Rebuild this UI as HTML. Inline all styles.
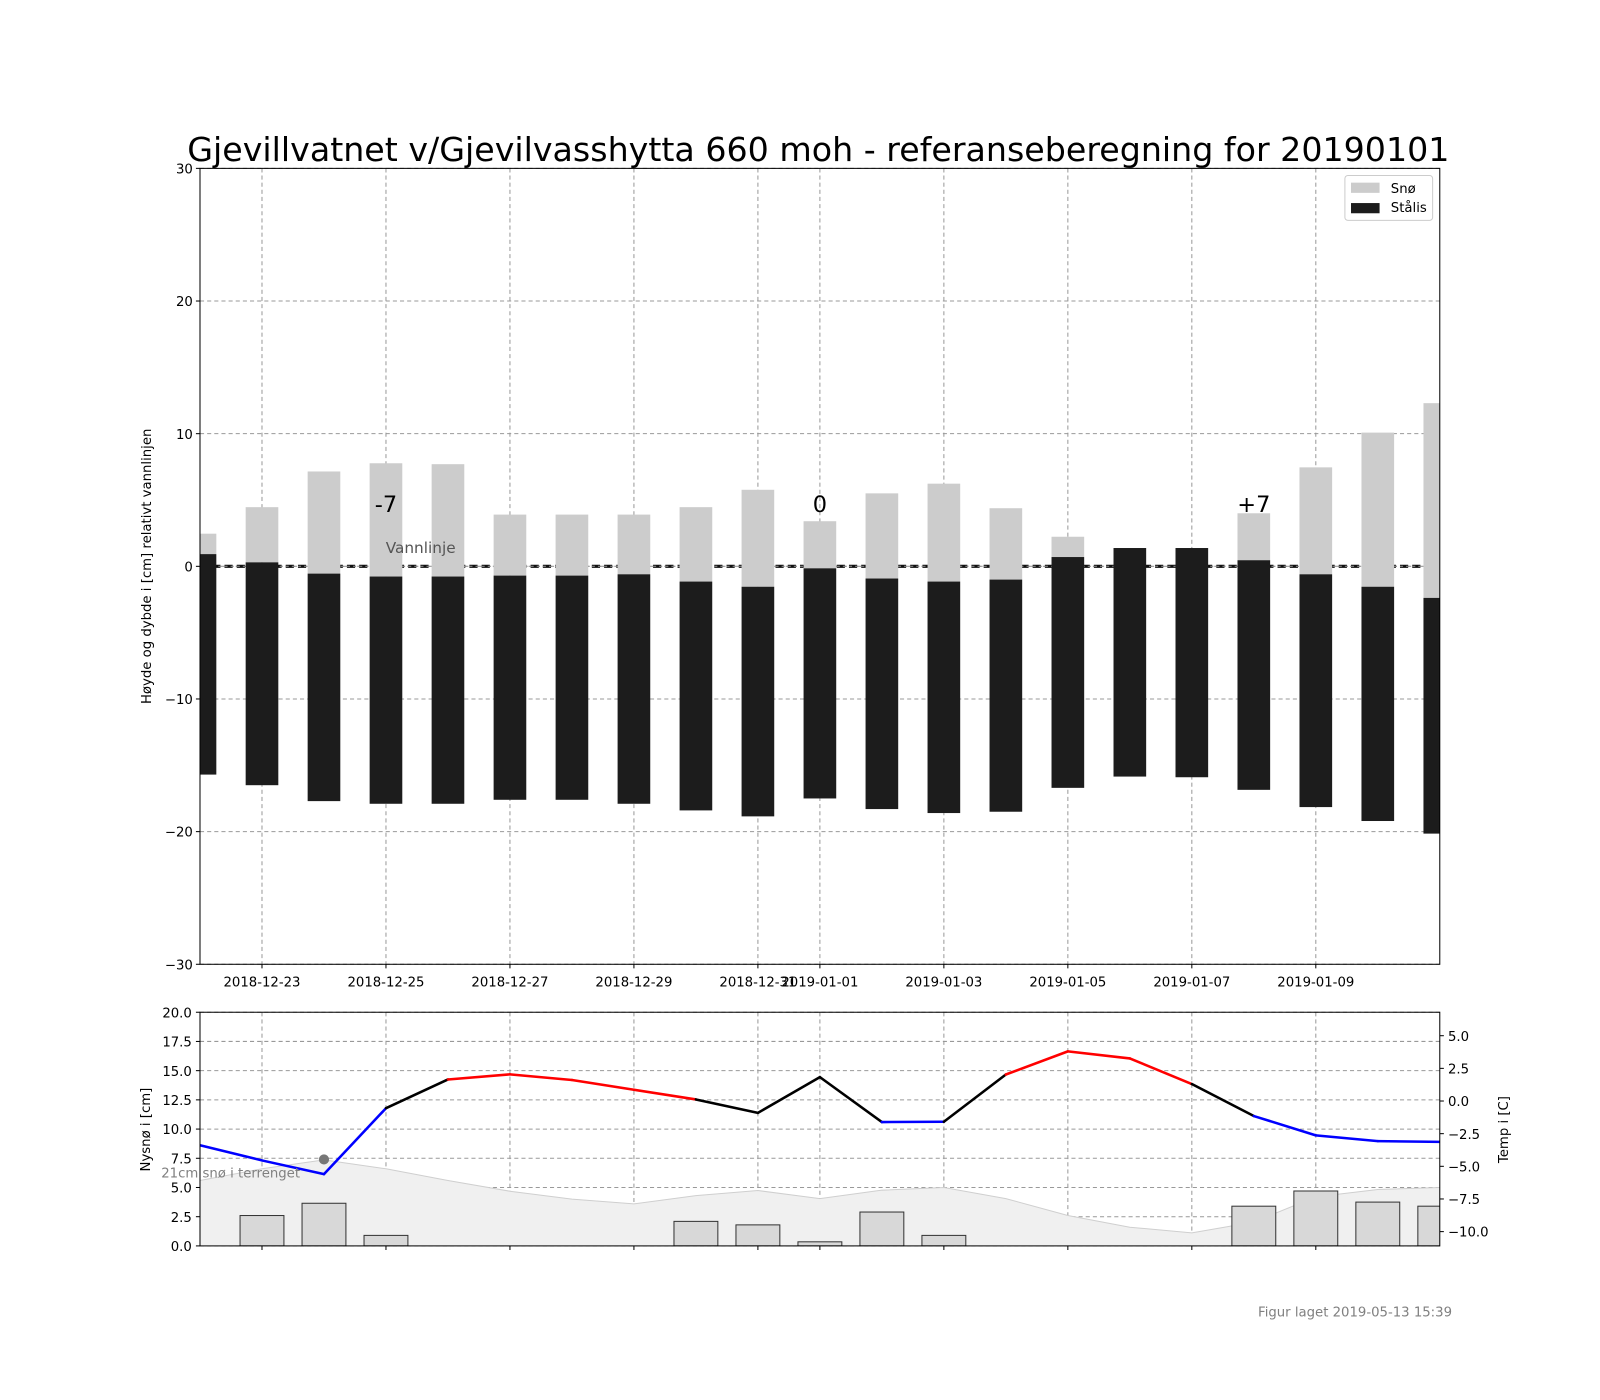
<!DOCTYPE html>
<html><head><meta charset="utf-8">
<style>
body{margin:0;background:#fff;}
svg{display:block;font-family:"DejaVu Sans","Liberation Sans",sans-serif;}
</style></head>
<body>
<svg id="fig" width="1600" height="1400" viewBox="0 0 1600 1400" xmlns="http://www.w3.org/2000/svg">
<rect width="1600" height="1400" fill="#fff"/>
<g id="root" transform="scale(1.0204)">
<text x="802" y="158" font-size="32.6" text-anchor="middle" fill="#000">Gjevillvatnet v/Gjevilvasshytta 660 moh - referanseberegning for 20190101</text>
<g id="topPanel"></g>
<g id="botPanel"></g>
<text x="1423" y="1290" font-size="13" text-anchor="end" fill="#808080">Figur laget 2019-05-13 15:39</text>
</g>
</svg>
<script>
// ---- data ----
const days = ["2018-12-22","2018-12-23","2018-12-24","2018-12-25","2018-12-26","2018-12-27","2018-12-28","2018-12-29","2018-12-30","2018-12-31","2019-01-01","2019-01-02","2019-01-03","2019-01-04","2019-01-05","2019-01-06","2019-01-07","2019-01-08","2019-01-09","2019-01-10","2019-01-11"];
const snowTop = [2.46,4.46,7.15,7.77,7.7,3.9,3.9,3.9,4.46,5.77,3.4,5.5,6.23,4.38,2.23,1.38,1.38,4.0,7.46,10.08,12.3];
const iceTop = [0.92,0.3,-0.55,-0.77,-0.77,-0.7,-0.7,-0.6,-1.15,-1.54,-0.15,-0.92,-1.15,-1.0,0.7,1.38,1.38,0.46,-0.6,-1.54,-2.38];
const iceBottom = [-15.7,-16.5,-17.7,-17.9,-17.9,-17.6,-17.6,-17.9,-18.4,-18.85,-17.5,-18.3,-18.6,-18.5,-16.7,-15.85,-15.9,-16.85,-18.15,-19.2,-20.15];
const tickDays = [1,3,5,7,9,10,12,14,16,18];
const tickLabels = ["2018-12-23","2018-12-25","2018-12-27","2018-12-29","2018-12-31","2019-01-01","2019-01-03","2019-01-05","2019-01-07","2019-01-09"];
const yTicksTop = [30,20,10,0,-10,-20,-30];
const newSnow = [0,2.6,3.65,0.9,0,0,0,0,2.1,1.8,0.35,2.9,0.9,0,0,0,0,3.4,4.7,3.75,3.4];
const groundSnow = [5.6,6.6,7.36,6.6,5.6,4.68,4.0,3.6,4.3,4.74,4.05,4.77,5.0,4.05,2.6,1.6,1.12,2.04,4.2,4.83,5.0];
const temp = [-3.39,-4.55,-5.6,-0.55,1.65,2.04,1.61,0.86,0.12,-0.91,1.83,-1.61,-1.59,2.03,3.8,3.26,1.3,-1.15,-2.63,-3.07,-3.13];
const segColors = ["b","b","b","k","r","r","r","r","k","k","k","b","k","r","r","r","k","b","b","b"];
const yTicksLeft = [20,17.5,15,12.5,10,7.5,5,2.5,0];
const yTicksTemp = [5,2.5,0,-2.5,-5,-7.5,-10];

// ---- axes ----
const L=196,R=1411;
const xs = i => L + i*(R-L)/20;
const yTop = v => 555 - v*13;
const yB = v => 1221 - v*11.45;
const yT = v => 1079 - v*12.8;
const NS="http://www.w3.org/2000/svg";
function mk(parent,tag,attrs,text){const e=document.createElementNS(NS,tag);for(const k in attrs)e.setAttribute(k,attrs[k]);if(text!==undefined)e.textContent=text;parent.appendChild(e);return e;}
const gTop=document.getElementById('topPanel'), gBot=document.getElementById('botPanel');
const colMap={r:"#ff0000",b:"#0000ff",k:"#000000"};

const defs=mk(document.getElementById('root'),'defs',{});
const c1=mk(defs,'clipPath',{id:'clipTop'});mk(c1,'rect',{x:L,y:165,width:R-L,height:780});
const c2=mk(defs,'clipPath',{id:'clipBot'});mk(c2,'rect',{x:L,y:992,width:R-L,height:229});

// top grid
yTicksTop.forEach(v=>{
  const g=mk(gTop,'line',{x1:L,x2:R,y1:yTop(v),y2:yTop(v),stroke:"#999",'stroke-dasharray':"4,3",'stroke-width':1});
  
  
  const t=mk(gTop,'text',{x:L-7,y:yTop(v)+5,'font-size':13,'text-anchor':'end'},v<0?'\u2212'+(-v):String(v));
  
  
  mk(gTop,'line',{x1:L-4,x2:L,y1:yTop(v),y2:yTop(v),stroke:"#000"});
});
tickDays.forEach((d,i)=>{
  const g=mk(gTop,'line',{x1:xs(d),x2:xs(d),y1:165,y2:945,stroke:"#999",'stroke-dasharray':"4,3"});
  
  
  mk(gTop,'line',{x1:xs(d),x2:xs(d),y1:945,y2:949,stroke:"#000"});
  const t=mk(gTop,'text',{x:xs(d),y:967,'font-size':13,'text-anchor':'middle'},tickLabels[i]);
  
  
});
const wl1=mk(gTop,'line',{x1:L,x2:R,y1:yTop(0),y2:yTop(0),stroke:"#111",'stroke-width':3,'stroke-dasharray':"8,4"});


mk(gTop,'line',{x1:L,x2:R,y1:yTop(0),y2:yTop(0),stroke:"#888",'stroke-width':1,'stroke-dasharray':"3,3"});
const gb=mk(gTop,'g',{'clip-path':'url(#clipTop)'});
const bw=32;
days.forEach((d,i)=>{
  if(snowTop[i]>iceTop[i]){
    const s=mk(gb,'rect',{x:xs(i)-bw/2,y:yTop(snowTop[i]),width:bw,height:yTop(iceTop[i])-yTop(snowTop[i]),fill:"#cccccc"});
    
    
  }
  const b=mk(gb,'rect',{x:xs(i)-bw/2,y:yTop(iceTop[i]),width:bw,height:yTop(iceBottom[i])-yTop(iceTop[i]),fill:"#1c1c1c"});
  
  
});
const vt=mk(gTop,'text',{x:378,y:542,'font-size':15,fill:"#555"},'Vannlinje');


[["-7",3],["0",10],["+7",17]].forEach(([s,i])=>{
  const t=mk(gTop,'text',{x:xs(i),y:502,'font-size':22,'text-anchor':'middle'},s);
  
  
});
mk(gTop,'rect',{x:L,y:165,width:R-L,height:780,fill:'none',stroke:'#000','stroke-width':1});
const yl=mk(gTop,'text',{x:0,y:0,'font-size':13,'text-anchor':'middle',transform:'translate(148,555) rotate(-90)'},'Høyde og dybde i [cm] relativt vannlinjen');


const lg=mk(gTop,'g',{});


mk(lg,'rect',{x:1318,y:172,width:86,height:44,rx:3,fill:'#fff',stroke:'#ccc'});
mk(lg,'rect',{x:1324,y:179,width:28,height:10,fill:'#cccccc'});
mk(lg,'text',{x:1363,y:189,'font-size':13},'Snø');
mk(lg,'rect',{x:1324,y:199,width:28,height:10,fill:'#1c1c1c'});
mk(lg,'text',{x:1363,y:208,'font-size':13},'Stålis');

// bottom panel
yTicksLeft.forEach(v=>{
  const g=mk(gBot,'line',{x1:L,x2:R,y1:yB(v),y2:yB(v),stroke:"#999",'stroke-dasharray':"4,3"});
  
  
  mk(gBot,'line',{x1:L-4,x2:L,y1:yB(v),y2:yB(v),stroke:"#000"});
  const t=mk(gBot,'text',{x:L-8,y:yB(v)+5,'font-size':13,'text-anchor':'end'},v.toFixed(1));
  
  
});
tickDays.forEach(d=>{
  mk(gBot,'line',{x1:xs(d),x2:xs(d),y1:992,y2:1221,stroke:"#999",'stroke-dasharray':"4,3"});
  mk(gBot,'line',{x1:xs(d),x2:xs(d),y1:1221,y2:1225,stroke:"#000"});
});
yTicksTemp.forEach(v=>{
  mk(gBot,'line',{x1:R,x2:R+4,y1:yT(v),y2:yT(v),stroke:"#000"});
  const t=mk(gBot,'text',{x:R+8,y:yT(v)+5,'font-size':13},v<0?'\u2212'+(-v).toFixed(1):v.toFixed(1));
  
  
});
const gc=mk(gBot,'g',{'clip-path':'url(#clipBot)'});
let pts=groundSnow.map((v,i)=>xs(i)+','+yB(v)).join(' ');
const area=mk(gc,'polygon',{points:xs(0)+','+yB(0)+' '+pts+' '+xs(20)+','+yB(0),fill:'#f0f0f0',stroke:'none'});


mk(gc,'polyline',{points:pts,fill:'none',stroke:'#cfcfcf','stroke-width':1});
newSnow.forEach((v,i)=>{
  if(v<=0)return;
  const b=mk(gc,'rect',{x:xs(i)-21.5,y:yB(v),width:43,height:yB(0)-yB(v),fill:'#d8d8d8',stroke:'#333','stroke-width':1});
  
  
});
for(let i=0;i<temp.length-1;i++){
  const s=mk(gc,'line',{x1:xs(i),y1:yT(temp[i]),x2:xs(i+1),y2:yT(temp[i+1]),stroke:colMap[segColors[i]],'stroke-width':2.5,'stroke-linecap':'round'});
  
  
}
const dot=mk(gBot,'circle',{cx:xs(2),cy:yB(7.4),r:5,fill:'#777'});


const gl=mk(gBot,'text',{x:158,y:1154,'font-size':13,fill:'#808080'},'21cm snø i terrenget');


mk(gBot,'rect',{x:L,y:992,width:R-L,height:229,fill:'none',stroke:'#000'});
const yl2=mk(gBot,'text',{x:0,y:0,'font-size':13,'text-anchor':'middle',transform:'translate(147,1107) rotate(-90)'},'Nysnø i [cm]');


const yl3=mk(gBot,'text',{x:0,y:0,'font-size':13,'text-anchor':'middle',transform:'translate(1478,1107) rotate(-90)'},'Temp i [C]');


</script>
</body></html>
